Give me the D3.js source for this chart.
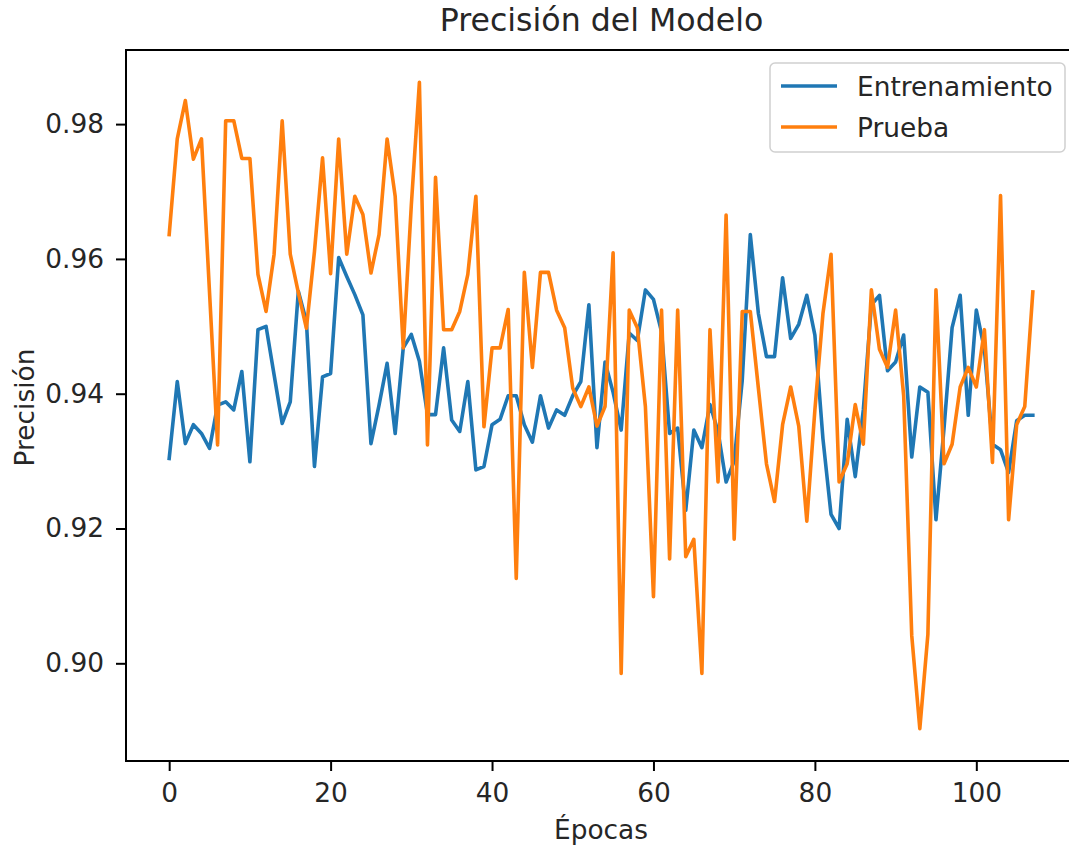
<!DOCTYPE html>
<html>
<head>
<meta charset="utf-8">
<script src="https://cdn.jsdelivr.net/npm/d3@7"></script>
<style>
  body { margin: 0; background: #fff; }
  text { font-family: "DejaVu Sans", sans-serif; fill: #262626; }
</style>
</head>
<body>
<svg id="chart" width="1069" height="847"></svg>
<script>
const title = "Precisión del Modelo";
const xLabel = "Épocas";
const yLabel = "Precisión";
const seriesNames = ["Entrenamiento", "Prueba"];
const xTicks = [0, 20, 40, 60, 80, 100];
const yTicks = [0.90, 0.92, 0.94, 0.96, 0.98];

const train = [
  0.9304, 0.9418, 0.9326, 0.9354, 0.9341, 0.9319, 0.9383, 0.9388, 0.9376, 0.9433,
  0.9299, 0.9495, 0.9500, 0.9428, 0.9356, 0.9388, 0.9552, 0.9507, 0.9292, 0.9425,
  0.9430, 0.9602, 0.9574, 0.9547, 0.9517, 0.9326, 0.9383, 0.9445, 0.9341, 0.9468,
  0.9488, 0.9448, 0.9369, 0.9369, 0.9468, 0.9361, 0.9344, 0.9418, 0.9287, 0.9292,
  0.9354, 0.9362, 0.9397, 0.9397, 0.9354, 0.9328, 0.9397, 0.9349, 0.9376, 0.9368,
  0.9397, 0.9418, 0.9532, 0.9320, 0.9447, 0.9402, 0.9346, 0.9490, 0.9479, 0.9554,
  0.9540, 0.9492, 0.9341, 0.9349, 0.9227, 0.9346, 0.9320, 0.9384, 0.9344, 0.9269,
  0.9300, 0.9420, 0.9636, 0.9519, 0.9455, 0.9455, 0.9572, 0.9482, 0.9503, 0.9546,
  0.9487, 0.9333, 0.9221, 0.9200, 0.9362, 0.9277, 0.9376, 0.9532, 0.9546, 0.9434,
  0.9447, 0.9487, 0.9306, 0.9410, 0.9402, 0.9213, 0.9349, 0.9498, 0.9546, 0.9368,
  0.9524, 0.9466, 0.9325, 0.9317, 0.9283, 0.9360, 0.9368, 0.9368
];

const test = [
  0.9636, 0.9778, 0.9835, 0.9748, 0.9778, 0.9550, 0.9324, 0.9805, 0.9805, 0.9749,
  0.9749, 0.9577, 0.9522, 0.9607, 0.9805, 0.9607, 0.9550, 0.9497, 0.9611, 0.9750,
  0.9578, 0.9778, 0.9607, 0.9693, 0.9666, 0.9579, 0.9636, 0.9778, 0.9693, 0.9468,
  0.9680, 0.9862, 0.9324, 0.9721, 0.9495, 0.9495, 0.9522, 0.9577, 0.9693, 0.9351,
  0.9468, 0.9468, 0.9525, 0.9126, 0.9580, 0.9439, 0.9580, 0.9580, 0.9524, 0.9498,
  0.9408, 0.9381, 0.9410, 0.9352, 0.9381, 0.9609, 0.8985, 0.9524, 0.9498, 0.9381,
  0.9099, 0.9524, 0.9155, 0.9524, 0.9158, 0.9184, 0.8985, 0.9495, 0.9269, 0.9665,
  0.9184, 0.9522, 0.9522, 0.9408, 0.9296, 0.9240, 0.9354, 0.9410, 0.9352, 0.9211,
  0.9376, 0.9519, 0.9607, 0.9269, 0.9296, 0.9384, 0.9325, 0.9554, 0.9466, 0.9439,
  0.9524, 0.9397, 0.9041, 0.8903, 0.9043, 0.9554, 0.9296, 0.9325, 0.9410, 0.9439,
  0.9410, 0.9495, 0.9298, 0.9694, 0.9213, 0.9354, 0.9381, 0.9551
];

const colors = ["#1f77b4", "#ff7f0e"];

const svg = d3.select("#chart");
const plot = { left: 126, top: 50, right: 1076, bottom: 761 };
const fontSize = 26.4;

// matplotlib-style 5% margins
const n = train.length;
const xPad = (n - 1) * 0.05;
const all = train.concat(test);
const yMin = d3.min(all), yMax = d3.max(all);
const yPad = (yMax - yMin) * 0.05;

const xScale = d3.scaleLinear().domain([-xPad, n - 1 + xPad]).range([plot.left, plot.right]);
const yScale = d3.scaleLinear().domain([yMin - yPad, yMax + yPad]).range([plot.bottom, plot.top]);

// lines
const line = d3.line().x((d, i) => xScale(i)).y(d => yScale(d));
[train, test].forEach((s, k) => {
  svg.append("path")
    .datum(s)
    .attr("fill", "none")
    .attr("stroke", colors[k])
    .attr("stroke-width", 3.6)
    .attr("stroke-linejoin", "round")
    .attr("stroke-linecap", "square")
    .attr("d", line);
});

// frame
svg.append("rect")
  .attr("x", plot.left).attr("y", plot.top)
  .attr("width", plot.right - plot.left).attr("height", plot.bottom - plot.top)
  .attr("fill", "none").attr("stroke", "#000").attr("stroke-width", 2);

// X axis
const xAxis = svg.append("g")
  .attr("transform", `translate(0,${plot.bottom})`)
  .call(d3.axisBottom(xScale).tickValues(xTicks).tickSize(10).tickPadding(12).tickFormat(d3.format("d")));
xAxis.select(".domain").remove();
xAxis.selectAll("line").attr("stroke", "#000").attr("stroke-width", 2);
xAxis.selectAll("text").attr("font-size", fontSize).attr("font-family", "DejaVu Sans").attr("fill", "#262626");

// Y axis
const yAxis = svg.append("g")
  .attr("transform", `translate(${plot.left},0)`)
  .call(d3.axisLeft(yScale).tickValues(yTicks).tickSize(10).tickPadding(12).tickFormat(d3.format(".2f")));
yAxis.select(".domain").remove();
yAxis.selectAll("line").attr("stroke", "#000").attr("stroke-width", 2);
yAxis.selectAll("text").attr("font-size", fontSize).attr("font-family", "DejaVu Sans").attr("fill", "#262626");

// titles
svg.append("text")
  .attr("x", (plot.left + plot.right) / 2 + 0.5).attr("y", 31)
  .attr("text-anchor", "middle").attr("font-size", 31.6)
  .text(title);

svg.append("text")
  .attr("x", (plot.left + plot.right) / 2).attr("y", 839)
  .attr("text-anchor", "middle").attr("font-size", fontSize)
  .text(xLabel);

svg.append("text")
  .attr("transform", `translate(34,${(plot.top + plot.bottom) / 2 + 2}) rotate(-90)`)
  .attr("text-anchor", "middle").attr("font-size", fontSize)
  .text(yLabel);

// legend
const legend = svg.append("g");
legend.append("rect")
  .attr("x", 770).attr("y", 63).attr("width", 295).attr("height", 89)
  .attr("rx", 5).attr("fill", "#fff").attr("fill-opacity", 0.8)
  .attr("stroke", "#d0d0d0").attr("stroke-width", 1.5);

seriesNames.forEach((name, k) => {
  const y = 86 + k * 41;
  legend.append("line")
    .attr("x1", 781).attr("x2", 837).attr("y1", y).attr("y2", y)
    .attr("stroke", colors[k]).attr("stroke-width", 3.6);
  legend.append("text")
    .attr("x", 857).attr("y", y + 9.5).attr("font-size", fontSize)
    .text(name);
});
</script>
</body>
</html>
